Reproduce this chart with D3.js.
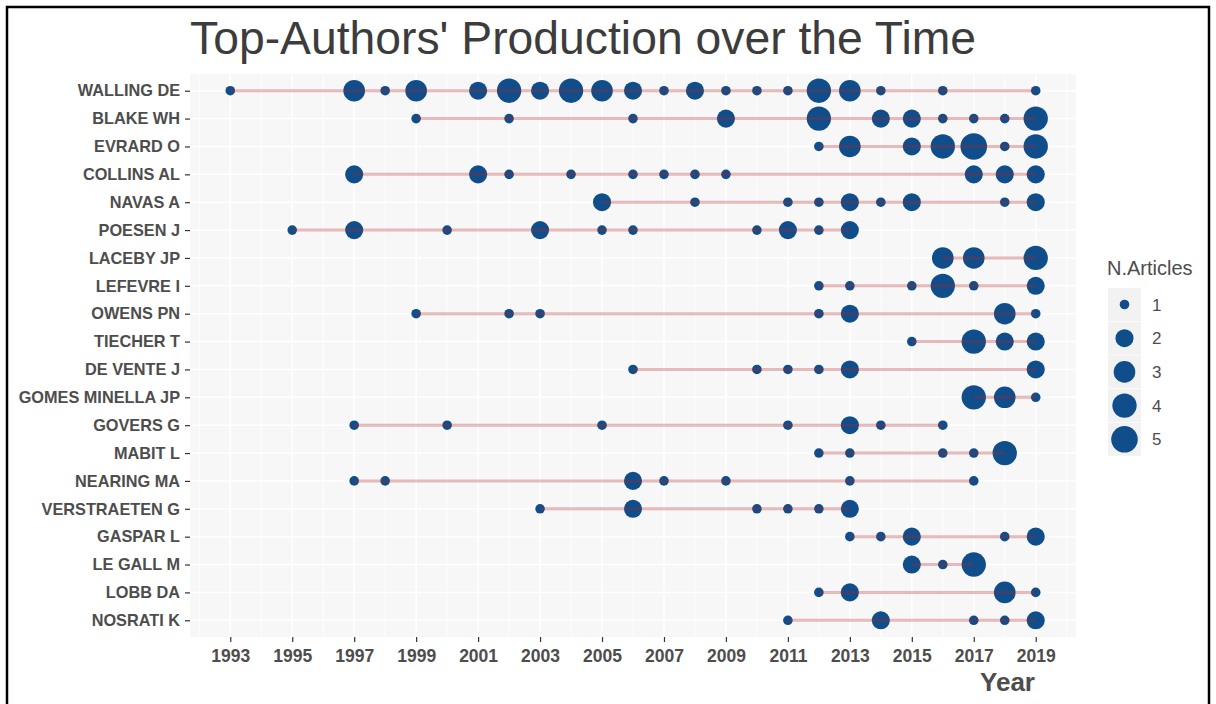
<!DOCTYPE html>
<html>
<head>
<meta charset="utf-8">
<script src="https://cdn.jsdelivr.net/npm/d3@7"></script>
<style>
  body { margin: 0; background: #ffffff; }
  svg text { font-family: "Liberation Sans", Arial, sans-serif; }
</style>
</head>
<body>
<div id="chart"></div>
<script>
// Top authors, in the order they appear from top to bottom
var authors = ['WALLING DE', 'BLAKE WH', 'EVRARD O', 'COLLINS AL', 'NAVAS A',
  'POESEN J', 'LACEBY JP', 'LEFEVRE I', 'OWENS PN', 'TIECHER T', 'DE VENTE J',
  'GOMES MINELLA JP', 'GOVERS G', 'MABIT L', 'NEARING MA', 'VERSTRAETEN G',
  'GASPAR L', 'LE GALL M', 'LOBB DA', 'NOSRATI K'];

// Publication years for each author (same order as authors)
var prodYears = [
  [1993, 1997, 1998, 1999, 2001, 2002, 2003, 2004, 2005, 2006, 2007, 2008, 2009, 2010, 2011, 2012, 2013, 2014, 2016, 2019],
  [1999, 2002, 2006, 2009, 2012, 2014, 2015, 2016, 2017, 2018, 2019],
  [2012, 2013, 2015, 2016, 2017, 2018, 2019],
  [1997, 2001, 2002, 2004, 2006, 2007, 2008, 2009, 2017, 2018, 2019],
  [2005, 2008, 2011, 2012, 2013, 2014, 2015, 2018, 2019],
  [1995, 1997, 2000, 2003, 2005, 2006, 2010, 2011, 2012, 2013],
  [2016, 2017, 2019],
  [2012, 2013, 2015, 2016, 2017, 2019],
  [1999, 2002, 2003, 2012, 2013, 2018, 2019],
  [2015, 2017, 2018, 2019],
  [2006, 2010, 2011, 2012, 2013, 2019],
  [2017, 2018, 2019],
  [1997, 2000, 2005, 2011, 2013, 2014, 2016],
  [2012, 2013, 2016, 2017, 2018],
  [1997, 1998, 2006, 2007, 2009, 2013, 2017],
  [2003, 2006, 2010, 2011, 2012, 2013],
  [2013, 2014, 2015, 2018, 2019],
  [2015, 2016, 2017],
  [2012, 2013, 2018, 2019],
  [2011, 2014, 2017, 2018, 2019]
];

// Number of articles in each of those years
var prodCounts = [
  [1, 3, 1, 3, 2, 4, 2, 4, 3, 2, 1, 2, 1, 1, 1, 4, 3, 1, 1, 1],
  [1, 1, 1, 2, 4, 2, 2, 1, 1, 1, 4],
  [1, 3, 2, 4, 5, 1, 4],
  [2, 2, 1, 1, 1, 1, 1, 1, 2, 2, 2],
  [2, 1, 1, 1, 2, 1, 2, 1, 2],
  [1, 2, 1, 2, 1, 1, 1, 2, 1, 2],
  [3, 3, 4],
  [1, 1, 1, 4, 1, 2],
  [1, 1, 1, 1, 2, 3, 1],
  [1, 4, 2, 2],
  [1, 1, 1, 1, 2, 2],
  [4, 3, 1],
  [1, 1, 1, 1, 2, 1, 1],
  [1, 1, 1, 1, 4],
  [1, 1, 2, 1, 1, 1, 1],
  [1, 2, 1, 1, 1, 2],
  [1, 1, 2, 1, 2],
  [2, 1, 4],
  [1, 2, 3, 1],
  [1, 2, 1, 1, 2]
];

var xTicks = [1993, 1995, 1997, 1999, 2001, 2003, 2005, 2007, 2009, 2011, 2013, 2015, 2017, 2019];
var legendValues = [1, 2, 3, 4, 5];

var chartTitle = "Top-Authors' Production over the Time";
var xTitle = 'Year';
var legendTitle = 'N.Articles';

// Initialise key variables
var outerWidth = 1216;
var outerHeight = 704;
var panel = {left: 190, right: 1076, top: 74, bottom: 637};
var dotColor = '#104E8B';
var lineColor = '#B22222';
var textColor = '#4D4D4D';

var svg = d3.select('#chart').append('svg')
  .attr('width', outerWidth)
  .attr('height', outerHeight);

// Outer frame
svg.append('rect')
  .attr('x', 7).attr('y', 7)
  .attr('width', 1202).attr('height', 760)
  .attr('fill', 'none')
  .attr('stroke', '#000000')
  .attr('stroke-width', 2.5);

// Scales
var x = d3.scaleLinear()
  .domain([1993 - 1.3, 2019 + 1.3])
  .range([panel.left, panel.right]);

var y = d3.scalePoint()
  .domain(authors)
  .range([panel.top, panel.bottom])
  .padding(0.6);

// ggplot style area scale: radius grows with sqrt of rescaled value
var rBase = d3.scaleLinear().domain([0, 1]).range([4.8, 13.3]);
function radius(v) { return rBase(Math.sqrt((v - 1) / 4)); }

// Flatten rows into points
var points = [];
authors.forEach(function(a, i) {
  prodYears[i].forEach(function(yr, j) {
    points.push({author: a, year: yr, n: prodCounts[i][j]});
  });
});

// Panel background and grid
svg.append('rect')
  .attr('x', panel.left).attr('y', panel.top)
  .attr('width', panel.right - panel.left)
  .attr('height', panel.bottom - panel.top)
  .attr('fill', '#F7F7F7');

var minorYears = d3.range(1992, 2021, 2);
svg.append('g').selectAll('line')
  .data(minorYears)
  .enter().append('line')
    .attr('x1', function(d) { return x(d); })
    .attr('x2', function(d) { return x(d); })
    .attr('y1', panel.top).attr('y2', panel.bottom)
    .attr('stroke', '#ffffff')
    .attr('stroke-width', 0.8);

svg.append('g').selectAll('line')
  .data(xTicks)
  .enter().append('line')
    .attr('x1', function(d) { return x(d); })
    .attr('x2', function(d) { return x(d); })
    .attr('y1', panel.top).attr('y2', panel.bottom)
    .attr('stroke', '#ffffff')
    .attr('stroke-width', 1.5);

svg.append('g').selectAll('line')
  .data(authors)
  .enter().append('line')
    .attr('x1', panel.left).attr('x2', panel.right)
    .attr('y1', function(d) { return y(d); })
    .attr('y2', function(d) { return y(d); })
    .attr('stroke', '#ffffff')
    .attr('stroke-width', 1.5);

// Points
svg.append('g').selectAll('circle')
  .data(points)
  .enter().append('circle')
    .attr('cx', function(d) { return x(d.year); })
    .attr('cy', function(d) { return y(d.author); })
    .attr('r', function(d) { return radius(d.n); })
    .attr('fill', dotColor);

// Lines from first to last year, drawn over the points
svg.append('g').selectAll('line')
  .data(authors)
  .enter().append('line')
    .attr('x1', function(d, i) { return x(d3.min(prodYears[i])); })
    .attr('x2', function(d, i) { return x(d3.max(prodYears[i])); })
    .attr('y1', function(d) { return y(d); })
    .attr('y2', function(d) { return y(d); })
    .attr('stroke', lineColor)
    .attr('stroke-opacity', 0.3)
    .attr('stroke-width', 3);

// Axes
var xAxis = svg.append('g')
  .attr('transform', 'translate(0,' + panel.bottom + ')')
  .call(d3.axisBottom(x)
    .tickValues(xTicks)
    .tickFormat(d3.format('d'))
    .tickSize(5)
    .tickPadding(8));

var yAxis = svg.append('g')
  .attr('transform', 'translate(' + panel.left + ',0)')
  .call(d3.axisLeft(y).tickSize(5).tickPadding(5));

[xAxis, yAxis].forEach(function(ax) {
  ax.select('.domain').remove();
  ax.selectAll('.tick line').attr('stroke', '#333333').attr('stroke-width', 1.2);
  ax.selectAll('.tick text')
    .attr('fill', textColor)
    .style('font-weight', 'bold');
});
xAxis.selectAll('.tick text').style('font-size', '17.5px');
yAxis.selectAll('.tick text').style('font-size', '16.3px');

// Titles
svg.append('text')
  .attr('x', 190)
  .attr('y', 54)
  .style('font-size', '46.3px')
  .attr('fill', '#3C3C3C')
  .text(chartTitle);

svg.append('text')
  .attr('x', 1035)
  .attr('y', 691)
  .attr('text-anchor', 'end')
  .style('font-size', '26px')
  .style('font-weight', 'bold')
  .attr('fill', textColor)
  .text(xTitle);

// Legend for point size
var legend = svg.append('g');
legend.append('text')
  .attr('x', 1107)
  .attr('y', 275)
  .style('font-size', '20px')
  .attr('fill', textColor)
  .text(legendTitle);

var keySize = 33;
var keyTop = 288;
var key = legend.selectAll('.key')
  .data(legendValues)
  .enter().append('g')
    .attr('class', 'key')
    .attr('transform', function(d, i) {
      return 'translate(1108,' + (keyTop + i * (keySize + 0.7)) + ')';
    });

key.append('rect')
  .attr('width', keySize).attr('height', keySize)
  .attr('fill', '#F2F2F2');

key.append('circle')
  .attr('cx', keySize / 2).attr('cy', keySize / 2)
  .attr('r', function(d) { return radius(d); })
  .attr('fill', dotColor);

key.append('text')
  .attr('x', keySize + 11)
  .attr('y', keySize / 2)
  .attr('dy', '0.36em')
  .style('font-size', '17px')
  .attr('fill', textColor)
  .text(function(d) { return d; });
</script>
</body>
</html>
